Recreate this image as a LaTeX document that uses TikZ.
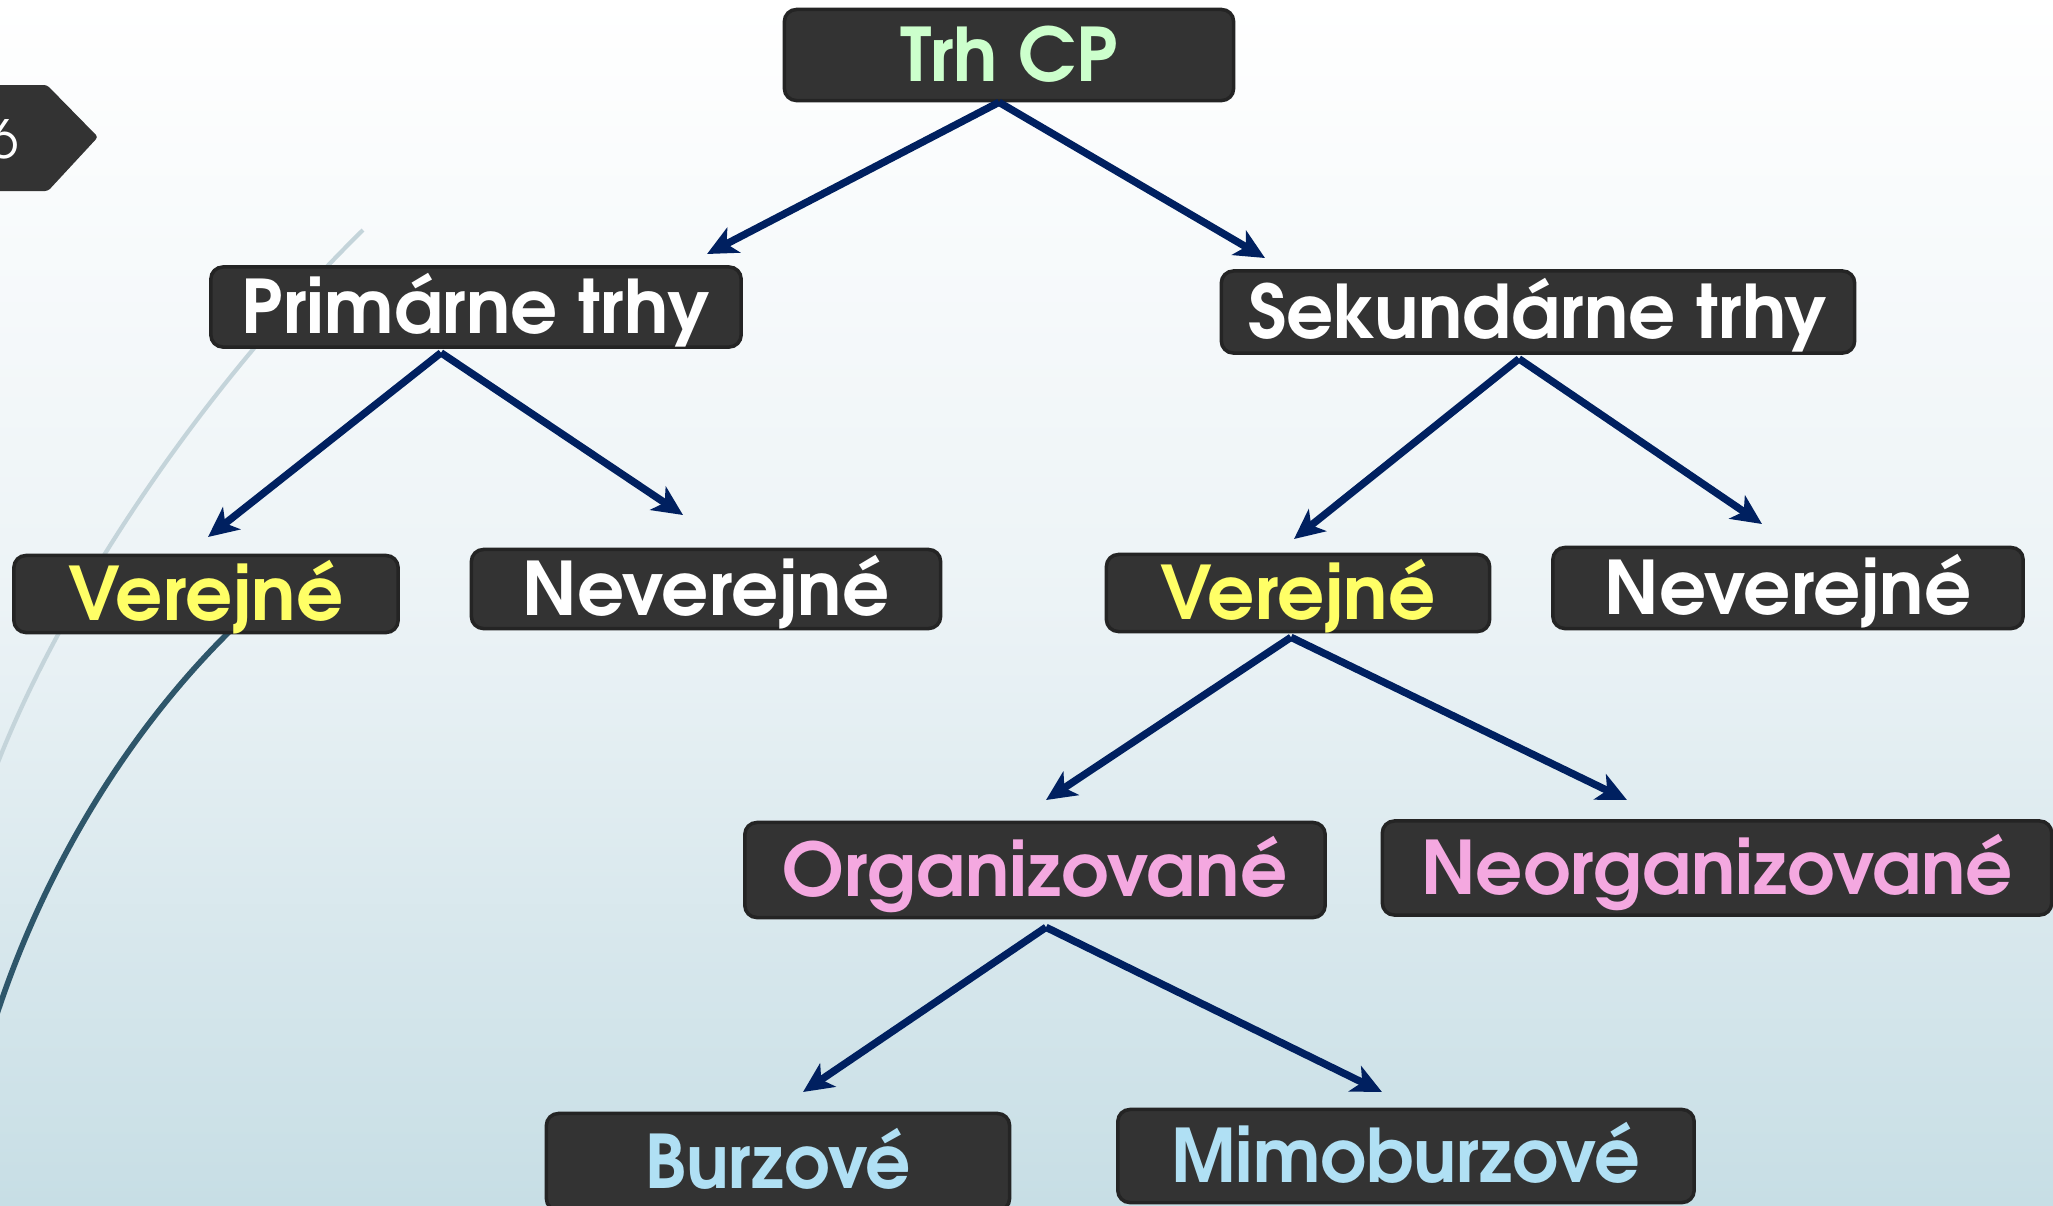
\documentclass[tikz,border=0pt]{standalone}
\usepackage{fontspec}
\setmainfont{texgyreadventor}[Extension=.otf, UprightFont=*-regular, BoldFont=*-bold, ItalicFont=*-italic, BoldItalicFont=*-bolditalic]
\usetikzlibrary{arrows.meta,calc}
\definecolor{boxfill}{HTML}{333333}
\definecolor{boxline}{HTML}{242424}
\definecolor{navy}{HTML}{002060}
\definecolor{tgreen}{HTML}{CCFFCC}
\definecolor{tyellow}{HTML}{FFFF66}
\definecolor{tpink}{HTML}{F4A8E0}
\definecolor{tblue}{HTML}{B0E0F4}
\definecolor{bgbottom}{RGB}{199,222,229}
\definecolor{arcgray}{RGB}{196,212,218}
\definecolor{arcteal}{RGB}{46,86,106}
\newcommand\lbl[3]{\textcolor{#1}{\scalebox{#2}[1]{#3}}}
\tikzset{
  box/.style={draw=boxline, line width=1pt, fill=boxfill, rounded corners=0.12cm,
    inner sep=0pt, text height=0.53cm, text depth=0pt,
    font=\bfseries\fontsize{21}{25}\selectfont},
  arr/.style={draw=navy, line width=2.1pt, -{Stealth[length=0.3cm,width=0.28cm,inset=0.08cm]}},
}
\begin{document}
\begin{tikzpicture}[x=0.01cm,y=-0.01cm]
\clip (0,0) rectangle (2053,1205);
\shade[top color=white, bottom color=bgbottom, middle color={rgb,255:red,236;green,243;blue,246}] (0,0) rectangle (2053,1205);
% decorative arcs
\draw[arcgray, line width=1.2pt] (363,230) .. controls (200,390) and (60,600) .. (-5,770);
\draw[arcteal, line width=1.6pt] (229,632) .. controls (120,740) and (40,880) .. (-5,1020);
% page tag
\fill[boxfill, rounded corners=0.03cm] (-20,85) -- (47,85) -- (98,137) -- (48,191) -- (-20,191) -- cycle;
\node[text=white, font=\fontsize{15}{18}\selectfont, inner sep=0pt] (pg) at (4,139) {6};
% nodes
\node[box, minimum width=4.49cm, minimum height=0.91cm] (trh) at (1009,55) {\lbl{tgreen}{1}{Trh CP}};
\node[box, minimum width=5.30cm, minimum height=0.80cm] (prim) at (476,307) {\lbl{white}{1}{Primárne trhy}};
\node[box, minimum width=6.33cm, minimum height=0.82cm] (sek) at (1538,312) {\lbl{white}{1}{Sekundárne trhy}};
\node[box, minimum width=3.84cm, minimum height=0.77cm] (verL) at (206,594) {\lbl{tyellow}{1}{Verejné}};
\node[box, minimum width=4.69cm, minimum height=0.79cm] (nevL) at (706,589) {\lbl{white}{1}{Neverejné}};
\node[box, minimum width=3.83cm, minimum height=0.77cm] (verR) at (1298,593) {\lbl{tyellow}{1}{Verejné}};
\node[box, minimum width=4.70cm, minimum height=0.81cm] (nevR) at (1788,588) {\lbl{white}{1}{Neverejné}};
\node[box, minimum width=5.80cm, minimum height=0.95cm] (org) at (1035,870) {\lbl{tpink}{1}{Organizované}};
\node[box, minimum width=6.69cm, minimum height=0.94cm] (neorg) at (1717,868) {\lbl{tpink}{1}{Neorganizované}};
\node[box, minimum width=4.63cm, minimum height=0.97cm] (burz) at (778,1162) {\lbl{tblue}{0.96}{Burzové}};
\node[box, minimum width=5.76cm, minimum height=0.93cm] (mimo) at (1406,1156) {\lbl{tblue}{0.97}{Mimoburzové}};
% arrow end points
\coordinate (tPrim) at (707,254);
\coordinate (tSek) at (1265,258);
\coordinate (tVerL) at (208,537);
\coordinate (tNevL) at (683,515);
\coordinate (tVerR) at (1294,539);
\coordinate (tNevR) at (1762,524);
\coordinate (tOrg) at (1046,800);
\coordinate (tNeorg) at (1627,800);
\coordinate (tBurz) at (803,1092);
\coordinate (tMimo) at (1382,1092);
% connectors
\draw[arr] ($(trh.south)+(-10,0)$) -- (tPrim);
\draw[arr] ($(trh.south)+(-10,0)$) -- (tSek);
\draw[arr] ($(prim.south)+(-35,4)$) -- (tVerL);
\draw[arr] ($(prim.south)+(-35,4)$) -- (tNevL);
\draw[arr] ($(sek.south)+(-19,4)$) -- (tVerR);
\draw[arr] ($(sek.south)+(-19,4)$) -- (tNevR);
\draw[arr] ($(verR.south)+(-7,4)$) -- (tOrg);
\draw[arr] ($(verR.south)+(-7,4)$) -- (tNeorg);
\draw[arr] ($(org.south)+(11,8)$) -- (tBurz);
\draw[arr] ($(org.south)+(11,8)$) -- (tMimo);
\end{tikzpicture}
\end{document}
